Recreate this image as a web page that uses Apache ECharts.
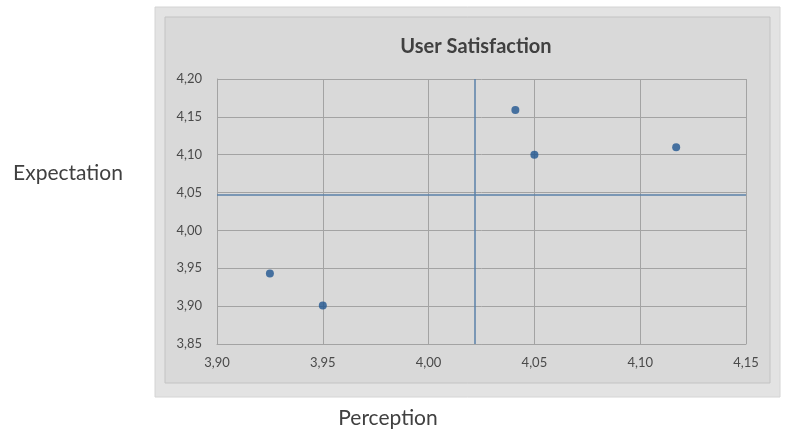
<!DOCTYPE html>
<html>
<head>
<meta charset="utf-8">
<script src="https://cdn.jsdelivr.net/npm/echarts@6/dist/echarts.min.js"></script>
<style>
  html, body { margin: 0; padding: 0; background: #ffffff; }
  #chart { width: 785px; height: 430px; }
</style>
</head>
<body>
<div id="chart"></div>
<script>
// Survey results: perception (x) versus expectation (y)
const perception  = [3.925, 3.950, 4.041, 4.050, 4.117];
const expectation = [3.943, 3.901, 4.159, 4.100, 4.110];

// Quadrant dividers
const perceptionRef  = 4.022;
const expectationRef = 4.047;

// Axis ranges and tick step
const xRange = [3.90, 4.15];
const yRange = [3.85, 4.20];
const tickStep = 0.05;

const titleText = 'User Satisfaction';
const xName = 'Perception';
const yName = 'Expectation';

const fmt = v => v.toFixed(2).replace('.', ',');
const points = perception.map((p, i) => [p, expectation[i]]);

const chart = echarts.init(document.getElementById('chart'), null, { renderer: 'canvas' });

const fontFamily = 'Lato, "Open Sans", sans-serif';
const labelFont = { color: '#4a4a4a', fontSize: 13, fontFamily: fontFamily };
const gridLine = { show: true, lineStyle: { color: '#a3a3a3', width: 1 } };

chart.setOption({
  backgroundColor: '#ffffff',
  animation: false,
  graphic: [
    { type: 'rect', z: -10, shape: { x: 155, y: 7, width: 625, height: 390 },
      style: { fill: '#e3e3e3', stroke: '#d4d4d4', lineWidth: 1 } },
    { type: 'rect', z: -9, shape: { x: 165, y: 17, width: 605, height: 366 },
      style: { fill: '#d9d9d9', stroke: '#c3c3c3', lineWidth: 1 } },
    { type: 'text', x: 68, y: 173,
      style: { text: yName, fill: '#404040', fontSize: 21, fontFamily: fontFamily,
               align: 'center', verticalAlign: 'middle' } },
    { type: 'text', x: 388, y: 418,
      style: { text: xName, fill: '#404040', fontSize: 21, fontFamily: fontFamily,
               align: 'center', verticalAlign: 'middle' } }
  ],
  title: {
    text: titleText,
    left: 471, top: 32, textAlign: 'center',
    textStyle: { color: '#404040', fontSize: 20, fontWeight: 'bold', fontFamily: fontFamily }
  },
  grid: { left: 217, right: 39, top: 79, bottom: 86, containLabel: false },
  xAxis: {
    type: 'value', min: xRange[0], max: xRange[1], interval: tickStep,
    axisLine: { show: true, lineStyle: { color: '#a3a3a3' } },
    axisTick: { show: false },
    axisLabel: Object.assign({ margin: 12, formatter: fmt }, labelFont),
    splitLine: gridLine
  },
  yAxis: {
    type: 'value', min: yRange[0], max: yRange[1], interval: tickStep,
    axisLine: { show: true, lineStyle: { color: '#a3a3a3' } },
    axisTick: { show: false },
    axisLabel: Object.assign({ margin: 15, formatter: fmt }, labelFont),
    splitLine: gridLine
  },
  series: [{
    type: 'scatter',
    data: points,
    symbolSize: 8,
    itemStyle: { color: '#1f5590' },
    markLine: {
      silent: true,
      symbol: 'none',
      precision: 3,
      label: { show: false },
      lineStyle: { color: '#5a80a8', width: 1.5, type: 'solid' },
      data: [{ xAxis: perceptionRef }, { yAxis: expectationRef }]
    }
  }]
});
</script>
</body>
</html>
